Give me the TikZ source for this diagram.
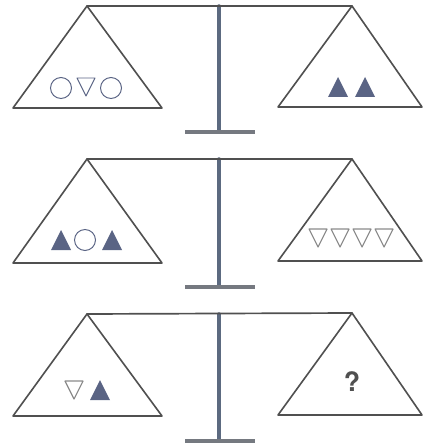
\documentclass[tikz,border=0pt]{standalone}
\usepackage{fontspec}
\setsansfont{TeX Gyre Heros}
\definecolor{beamgray}{HTML}{505050}
\definecolor{postblue}{HTML}{5C6A80}
\definecolor{slate}{HTML}{5A6484}
\definecolor{lightgray}{HTML}{8A8A8A}
\tikzset{
	pan/.style={draw=beamgray, line width=2.3pt, line join=round},
	beam/.style={draw=beamgray, line width=2.4pt},
	post/.style={draw=postblue, line width=5pt},
	foot/.style={draw=gray!70!postblue, line width=5pt},
	upfill/.pic={\fill[slate] (-10,10) -- (10,10) -- (0,-10) -- cycle;},
	downline/.pic={\draw[slate, line width=1.4pt, line join=round] (-9,-9) -- (9,-9) -- (0,9) -- cycle;},
	downgray/.pic={\draw[lightgray, line width=1.6pt, line join=round] (-9,-9) -- (9,-9) -- (0,9) -- cycle;},
	ring/.pic={\draw[slate, line width=1.4pt] (0,0) circle (10.5);}
}
\begin{document}
\begin{tikzpicture}[x=0.05cm, y=-0.05cm, line cap=round]
	\useasboundingbox (0,0) rectangle (423,448);
	
	% Waage 1
	\coordinate (L1) at (87,6);
	\coordinate (R1) at (352,6);
	\coordinate (M1) at (219,6);
	\coordinate (P1) at (219,132);
	\draw[post] (M1) -- (P1);
	\draw[foot, line cap=butt] (185,132) -- (255,132);
	\draw[beam] (L1) -- (R1);
	\draw[pan] (L1) -- (13,108) -- (162,108) -- cycle;
	\draw[pan] (R1) -- (278,107) -- (422,107) -- cycle;
	\pic at (61,88) {ring};
	\pic at (86,87) {downline};
	\pic at (111,88) {ring};
	\pic at (338,87) {upfill};
	\pic at (365,87) {upfill};
	
	% Waage 2
	\coordinate (L2) at (87,159);
	\coordinate (R2) at (352,159);
	\coordinate (M2) at (219,159);
	\coordinate (P2) at (219,287);
	\draw[post] (M2) -- (P2);
	\draw[foot, line cap=butt] (185,287) -- (255,287);
	\draw[beam] (L2) -- (R2);
	\draw[pan] (L2) -- (13,263) -- (162,263) -- cycle;
	\draw[pan] (R2) -- (278,261) -- (422,261) -- cycle;
	\pic at (61,240) {upfill};
	\pic at (85,240) {ring};
	\pic at (112,240) {upfill};
	\pic at (318,238) {downgray};
	\pic at (340,238) {downgray};
	\pic at (362,238) {downgray};
	\pic at (384,238) {downgray};
	
	% Waage 3
	\coordinate (L3) at (87,314);
	\coordinate (R3) at (352,313);
	\coordinate (M3) at (219,314);
	\coordinate (P3) at (219,441);
	\draw[post] (M3) -- (P3);
	\draw[foot, line cap=butt] (185,441) -- (255,441);
	\draw[beam] (L3) -- (R3);
	\draw[pan] (L3) -- (13,416) -- (162,416) -- cycle;
	\draw[pan] (R3) -- (278,415) -- (422,415) -- cycle;
	\pic at (74,390) {downgray};
	\pic at (100,390) {upfill};
	\node[text=beamgray, font=\sffamily\bfseries\fontsize{38}{40}\selectfont] (frage) at (352,382) {?};
\end{tikzpicture}
\end{document}
